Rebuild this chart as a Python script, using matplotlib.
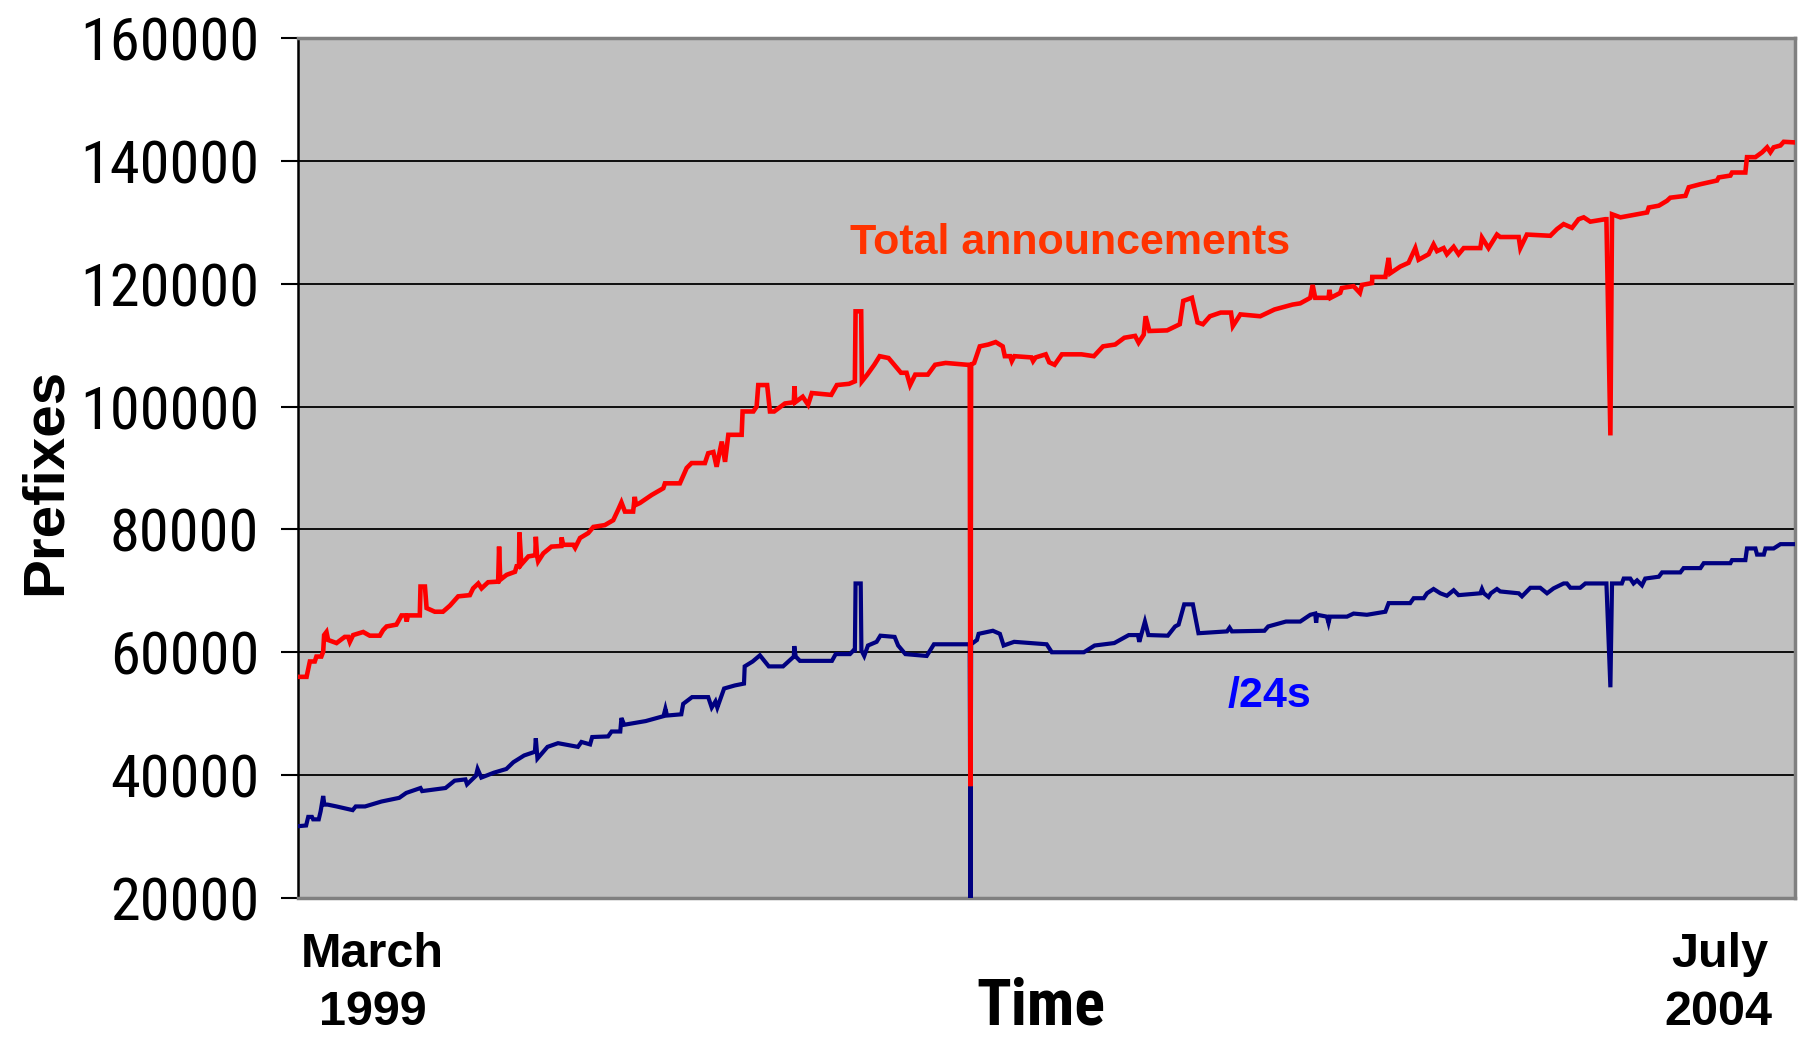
import os

import matplotlib
matplotlib.use("Agg")
import matplotlib.pyplot as plt
from matplotlib import font_manager as fm

# x = months since March 1999 (0) .. July 2004 (64)
total_month = [
    0.05, 0.37, 0.51, 0.72, 0.79, 1.0, 1.08, 1.12, 1.22, 1.29, 1.65, 2.0, 2.15, 2.22, 2.36,
    2.79, 3.07, 3.5, 3.64, 3.79, 4.21, 4.43, 4.6, 4.65, 4.7, 5.21, 5.24, 5.43, 5.5, 5.85,
    6.2, 6.5, 6.85, 7.35, 7.49, 7.71, 7.85, 8.13, 8.56, 8.6, 8.65, 8.92, 9.28, 9.35, 9.45,
    9.47, 9.55, 9.85, 10.15, 10.17, 10.22, 10.27, 10.49, 10.84, 11.26, 11.27, 11.34, 11.77,
    11.85, 12.06, 12.41, 12.63, 13.12, 13.48, 13.69, 13.83, 13.98, 14.33, 14.4, 14.45,
    14.62, 15.12, 15.62, 15.69, 16.33, 16.62, 16.83, 17.4, 17.54, 17.76, 17.9, 18.12,
    18.26, 18.4, 18.97, 19.01, 19.47, 19.61, 19.68, 20.06, 20.18, 20.36, 20.82, 21.2,
    21.23, 21.26, 21.58, 21.81, 21.97, 22.8, 23.04, 23.56, 23.81, 23.84, 24.08, 24.11,
    24.34, 24.64, 24.87, 25.25, 25.56, 25.78, 26.02, 26.17, 26.39, 26.93, 27.24, 27.69,
    28.61, 28.72, 28.75, 28.78, 28.91, 29.15, 29.52, 29.83, 30.13, 30.22, 30.45, 30.52,
    30.63, 31.36, 31.43, 31.54, 31.97, 32.12, 32.35, 32.66, 33.5, 34.03, 34.42, 34.94,
    35.33, 35.79, 35.94, 36.16, 36.24, 36.4, 37.16, 37.7, 37.85, 38.22, 38.46, 38.69,
    38.99, 39.45, 39.89, 39.97, 40.29, 41.14, 41.75, 42.52, 42.85, 43.28,
    43.38, 43.49, 44.06, 44.1, 44.15, 44.56, 44.63, 45.13, 45.4, 45.49, 45.92, 45.93,
    46.49, 46.63, 46.7, 47.13, 47.48, 47.77, 47.91, 48.34, 48.55, 48.7, 48.98, 49.12,
    49.41, 49.62, 49.84, 50.55, 50.62, 50.9, 51.26, 51.4, 52.19, 52.26, 52.54, 53.54,
    53.83, 54.11, 54.47, 54.75, 54.97, 55.25, 55.89, 55.94, 56.11, 56.18, 56.54, 57.68,
    57.75, 58.18, 58.53, 58.67, 59.32, 59.46, 59.96, 60.67, 60.74, 61.24, 61.31, 61.88,
    61.95, 62.31, 62.6, 62.81, 62.95, 63.09, 63.38, 63.52, 64.0,
]
total_prefixes = [
    56000, 56000, 58500, 58500, 59300, 59300, 60100, 62800, 63300, 62000, 61500, 62500,
    62500, 61700, 62800, 63300, 62700, 62700, 63600, 64200, 64500, 66000, 66000, 65000,
    66000, 66000, 70700, 70700, 67200, 66600, 66600, 67600, 69100, 69300, 70400, 71200,
    70400, 71400, 71500, 77200, 71800, 72600, 73100, 74000, 74000, 79500, 74300, 75600,
    75800, 78800, 75800, 74800, 76100, 77200, 77300, 78700, 77500, 77500, 77000, 78600,
    79400, 80400, 80700, 81500, 83200, 84400, 82900, 82900, 85300, 84000, 84300, 85600,
    86700, 87500, 87500, 90000, 90800, 90800, 92400, 92600, 90200, 94300, 91000, 95400,
    95400, 99200, 99200, 100000, 103500, 103500, 99200, 99200, 100500, 100700, 103300,
    100700, 101600, 100300, 102200, 101900, 103500, 103700, 104100, 115500, 115500,
    104100, 105200, 106800, 108200, 107900, 106500, 105500, 105500, 103500, 105200,
    105200, 106800, 107100, 106800, 106800, 38200, 106800, 107100, 109800, 110100,
    110500, 109800, 108200, 108200, 107400, 108200, 108000, 107400, 108000, 108500,
    107200, 106800, 108500, 108500, 108200, 109800, 110100, 111200, 111500, 110400,
    111700, 114700, 112300, 112400, 113400, 117200, 117700, 113700, 113400, 114700,
    115300, 115300, 113100, 115000, 114700, 115800, 116600, 116800, 117700,
    119800, 117700, 117700, 119000, 117700, 118500, 119300, 119600,
    118500, 119800, 120100, 121100, 121100, 124200, 121700, 122800, 123400, 125800,
    123900, 124800, 126400, 125300, 125800, 124800, 126000, 124800, 125800, 125800,
    127500, 125800, 128000, 127600, 127600, 125800, 128000, 127800, 128900, 129700,
    129100, 130500, 130800, 130100, 130500, 130500, 95300, 131300, 130800, 131600,
    132400, 132700, 133500, 134000, 134300, 135700, 136200, 136800, 137300, 137600,
    138100, 138100, 140600, 140600, 141400, 142200, 141400, 142200, 142500, 143100,
    143000,
]

s24_month = [
    0.05, 0.35, 0.44, 0.6, 0.65, 0.89, 0.97, 1.08, 1.13, 1.27, 1.65, 2.34, 2.47, 2.87,
    3.57, 4.33, 4.63, 5.24, 5.31, 6.31, 6.7, 7.16, 7.23, 7.61, 7.68, 7.84, 8.38, 8.91,
    9.21, 9.67, 10.13, 10.17, 10.24, 10.67, 11.12, 11.97, 12.12, 12.49, 12.58, 13.26,
    13.41, 13.78, 13.83, 13.95, 14.87, 15.63, 15.71, 15.78, 16.39, 16.47, 16.85, 17.54,
    17.69, 17.85, 17.93, 18.22, 18.68, 19.07, 19.1, 19.44, 19.75, 20.13, 20.74, 21.2,
    21.22, 21.28, 21.46, 22.83, 22.99, 23.6, 23.75, 23.81, 23.84, 24.06, 24.09, 24.21,
    24.37, 24.74, 24.9, 25.51, 25.66, 25.97, 26.88, 27.19, 28.72, 28.75, 28.78, 29.03,
    29.1, 29.71, 30.01, 30.17, 30.62, 32.01, 32.23, 33.6, 34.06, 34.9, 35.52, 35.91,
    35.97, 36.21, 36.36, 37.19, 37.5, 37.65, 37.89, 38.26, 38.5, 39.72, 39.83, 39.93,
    41.32, 41.48, 42.24, 42.85, 43.28, 43.49, 43.53, 43.57, 43.99,
    44.06, 44.12, 44.85, 45.13, 45.7, 46.49, 46.63, 47.55, 47.7, 48.13, 48.27, 48.55,
    48.84, 49.12, 49.41, 49.62, 50.55, 50.62, 50.7, 50.9, 51.0, 51.26, 51.4, 52.19,
    52.33, 52.69, 53.11, 53.4, 53.68, 54.11, 54.25, 54.4, 54.82, 55.04, 55.94, 56.11,
    56.18, 56.6, 56.68, 56.96, 57.1, 57.25, 57.46, 57.6, 58.18, 58.32, 59.1, 59.24,
    59.96, 60.1, 61.24, 61.31, 61.88, 61.95, 62.31, 62.38, 62.67, 62.74, 63.09, 63.38,
    64.0,
]
s24_prefixes = [
    31700, 31800, 33200, 33200, 32800, 32800, 34100, 36600, 35200, 35200, 34900, 34300,
    34900, 34900, 35700, 36300, 37100, 37900, 37400, 37900, 39100, 39300, 38500, 39900,
    41000, 39600, 40400, 41000, 42100, 43200, 43800, 46000, 42700, 44600, 45200, 44600,
    45400, 45000, 46200, 46300, 47100, 47100, 49300, 48200, 48800, 49600, 50800, 49700,
    49900, 51600, 52700, 52700, 51000, 52000, 51000, 54100, 54600, 54900, 57700, 58500,
    59500, 57700, 57700, 59300, 61000, 59300, 58600, 58600, 59700, 59700, 60300, 60300,
    71200, 71200, 60300, 59400, 61100, 61700, 62700, 62500, 61100, 59700, 59400, 61300,
    61300, 20000, 61300, 62000, 63000, 63500, 63000, 61100, 61700, 61300, 60000, 60000,
    61100, 61500, 62800, 62800, 61700, 65000, 62800, 62700, 64200, 64500, 67800, 67800,
    63100, 63400, 64000, 63400, 63500, 64200, 65000, 65000, 66100, 66300, 64800, 66100,
    65800, 64800, 65800, 65800, 66300, 66100, 66600,
    68000, 68000, 68800, 68800, 69600, 70300, 69600, 69200, 70100, 69300, 69600, 70300,
    69600, 69000, 69600, 70300, 69900, 69600, 69100, 70500, 70500, 69600, 70400, 71200,
    71200, 70500, 70500, 71200, 71200, 54300, 71200, 71200, 72000, 72000, 71200, 71700,
    70900, 72000, 72300, 73000, 73000, 73700, 73700, 74500, 74500, 75000, 75000, 76900,
    76900, 75900, 75900, 76900, 76900, 77600, 77600,
]

y_ticks = [20000, 40000, 60000, 80000, 100000, 120000, 140000, 160000]

ARIAL = ["Liberation Sans", "DejaVu Sans"]


def find_narrow(bold):
    # look for an installed narrow / condensed sans face (Arial Narrow look-alike)
    prefs = ["liberationsansnarrow", "arialnarrow", "arial_narrow",
             "robotocondensed-", "notosans-condensed", "opensans_condensed",
             "opensanscondensed", "opensans-condensed", "dejavusanscondensed"]
    skip = ("italic", "oblique", "semicondensed", "extracondensed",
            "ultracondensed", "mono", "light", "thin", "medium", "black",
            "semibold", "extrabold")
    best = None
    for entry in fm.fontManager.ttflist:
        fn = os.path.basename(entry.fname).lower().replace(" ", "")
        if any(k in fn for k in skip):
            continue
        if ("bold" in fn) != bold:
            continue
        for rank, p in enumerate(prefs):
            if fn.startswith(p):
                if best is None or rank < best[0]:
                    best = (rank, entry.fname)
                break
    return best[1] if best else None


def narrow_props(size, bold=False):
    path = find_narrow(bold)
    if path:
        return fm.FontProperties(fname=path, size=size)
    # no condensed face installed: plain face, a little smaller
    return fm.FontProperties(family=ARIAL, size=size * 0.8,
                             weight="bold" if bold else "normal")


fig = plt.figure(figsize=(17.98, 10.38), dpi=100)
fig.patch.set_facecolor("white")
ax = fig.add_axes([0.1657, 0.1349, 0.8326, 0.8285])
ax.set_facecolor("#C0C0C0")

ax.plot(s24_month, s24_prefixes, color="#000080", lw=3.0, zorder=3,
        solid_joinstyle="miter")
ax.plot(total_month, total_prefixes, color="#FF0000", lw=3.3, zorder=4,
        solid_joinstyle="miter")

ax.set_xlim(0, 64)
ax.set_ylim(20000, 160000)
ax.set_yticks(y_ticks)
tick_fp = narrow_props(43.5)
ax.set_yticklabels([str(v) for v in y_ticks], fontproperties=tick_fp)
ax.set_xticks([])
ax.yaxis.grid(True, color="black", lw=1.3, zorder=1)
ax.set_axisbelow(True)
ax.tick_params(axis="y", direction="out", length=12, width=1.5, pad=16,
               color="black")

for side in ("top", "right", "bottom"):
    ax.spines[side].set_color("#808080")
    ax.spines[side].set_linewidth(2.5)
ax.spines["left"].set_color("black")
ax.spines["left"].set_linewidth(1.8)

# series labels
fig.text(0.595, 0.766, "Total announcements", fontsize=31, fontweight="bold",
         color="#FF3300", family=ARIAL, ha="center", va="center")
fig.text(0.706, 0.3295, "/24s", fontsize=31, fontweight="bold",
         color="#0000FF", family=ARIAL, ha="center", va="center")

# axis titles and end labels
fig.text(0.0255, 0.536, "Prefixes", rotation=90, fontsize=42,
         fontweight="bold", family=ARIAL, ha="center", va="center")
fig.text(0.579, 0.030, "Time", fontproperties=narrow_props(46, bold=True),
         ha="center", va="center")
fig.text(0.2073, 0.080, "March", fontsize=35, fontweight="bold",
         family=ARIAL, ha="center", va="center")
fig.text(0.2073, 0.025, "1999", fontsize=35, fontweight="bold",
         family=ARIAL, ha="center", va="center")
fig.text(0.9567, 0.080, "July", fontsize=35, fontweight="bold",
         family=ARIAL, ha="center", va="center")
fig.text(0.9555, 0.025, "2004", fontsize=35, fontweight="bold",
         family=ARIAL, ha="center", va="center")

fig.savefig("out.png", dpi=100, facecolor=fig.get_facecolor())
